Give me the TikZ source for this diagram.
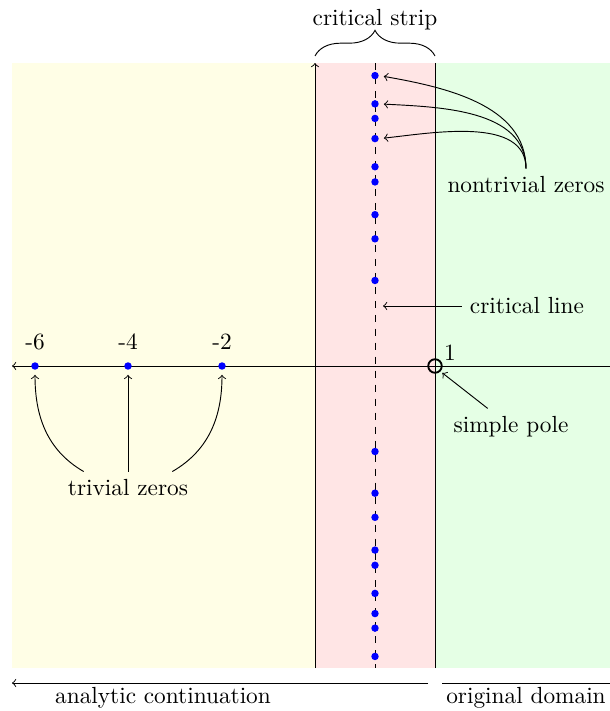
\documentclass[tikz,border=0pt]{standalone}
\usetikzlibrary{decorations.pathreplacing,calc}
\begin{document}
\begin{tikzpicture}[x=0.429pt,y=-0.429pt,
  zero/.style={circle,fill=blue,inner sep=0pt,minimum size=3.2pt},
  ptr/.style={->,shorten >=2pt}]
\useasboundingbox (0,0) rectangle (610,711);
% regions
\fill[yellow!10] (12,63) rectangle (315,668);
\fill[red!10] (315,63) rectangle (435,668);
\fill[green!10] (435,63) rectangle (610,668);
% axes and strip lines
\draw[dashed] (375,63) -- (375,668);
\draw[->] (315,668) -- (315,63);
\draw (435,668) -- (435,63);
\draw[->] (610,366) -- (12,366);
% nontrivial zeros
\foreach \t [count=\i] in {14.1347,21.0220,25.0109,30.4249,32.9351,37.5862,40.9187,43.3271,48.0052}{
  \node[zero] (u\i) at (375,{366-6.05*\t}) {};
  \node[zero] (d\i) at (375,{366+6.05*\t}) {};
}
% trivial zeros
\node[zero] (t6) at (35,366) {};
\node[zero] (t4) at (128,366) {};
\node[zero] (t2) at (222,366) {};
\node (l6) at (35,342) {-6};
\node (l4) at (128,342) {-4};
\node (l2) at (222,342) {-2};
% pole
\node[circle,draw,thick,inner sep=0pt,minimum size=5.8pt] (pole) at (435,366) {};
\node (one) at (450,353) {1};
% labels and pointers
\node (sp) at (511,427) {simple pole};
\draw[->,shorten >=1pt] ([xshift=-10pt]sp.north) -- (pole.south east);
\node (cl) at (527,306) {critical line};
\coordinate (clend) at (383,306);
\draw[->] (cl.west) -- (clend);
\node (nz) at (526,185) {nontrivial zeros};
\draw[ptr] (nz.north) to[out=90,in=-10,looseness=0.95] (u9.east);
\draw[ptr] (nz.north) to[out=90,in=-3,looseness=0.95] (u8.east);
\draw[ptr] (nz.north) to[out=90,in=6,looseness=0.9] (u6.east);
\node (tz) at (128,488) {trivial zeros};
\draw[ptr] ([xshift=-19pt]tz.north) to[out=150,in=-90] (t6.south);
\draw[ptr] (tz.north) -- (t4.south);
\draw[ptr] ([xshift=19pt]tz.north) to[out=30,in=-90] (t2.south);
% brace
\draw[decorate,decoration={brace,amplitude=11pt}] (315,56) -- (435,56);
\node (cs) at (375,20) {critical strip};
% bottom
\coordinate (acs) at (428,683);
\coordinate (ace) at (12,683);
\draw[->] (acs) -- (ace);
\node (ac) at (163,698) {analytic continuation};
\coordinate (ods) at (442,683);
\coordinate (ode) at (610,683);
\draw (ods) -- (ode);
\node (od) at (526,698) {original domain};
\end{tikzpicture}
\end{document}
